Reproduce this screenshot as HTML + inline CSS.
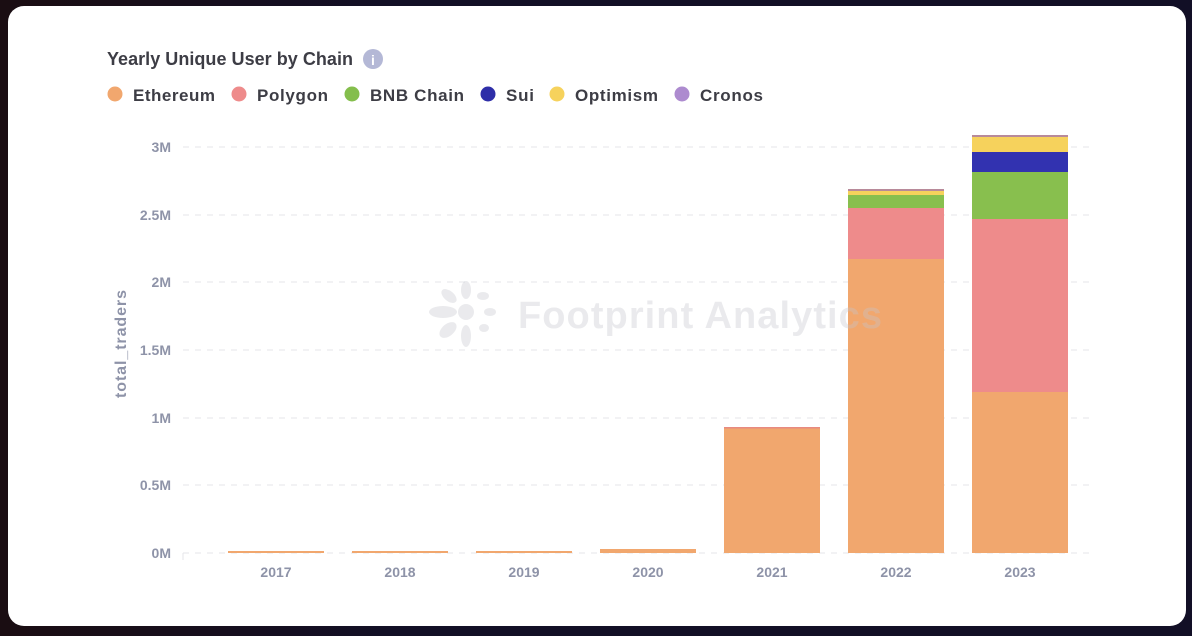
<!DOCTYPE html>
<html><head><meta charset="utf-8"><style>
body{margin:0;width:1192px;height:636px;background:#120f26;overflow:hidden;font-family:"Liberation Sans",sans-serif}
.card{position:absolute;left:8px;top:6px;width:1178px;height:620px;background:#fff;border-radius:16px}
</style></head><body>
<div style="position:absolute;left:0;top:0;width:400px;height:636px;background:linear-gradient(90deg,#1a0d12,#120f26)"></div>
<div class="card"></div>
<svg width="1192" height="636" style="position:absolute;left:0;top:0" font-family="Liberation Sans, sans-serif">
<text x="107" y="65" font-size="18" font-weight="bold" fill="#3d3d45" textLength="246">Yearly Unique User by Chain</text>
<circle cx="373" cy="59" r="10" fill="#b4b8d6"/><text x="373" y="65" font-size="14" font-weight="bold" fill="#fff" text-anchor="middle">i</text>
<g font-size="17" font-weight="bold" fill="#3d3d45">
<circle cx="115" cy="94" r="7.5" fill="#f1a76e"/><text x="133" y="101" textLength="82">Ethereum</text>
<circle cx="239" cy="94" r="7.5" fill="#ee8b8b"/><text x="257" y="101" textLength="71">Polygon</text>
<circle cx="352" cy="94" r="7.5" fill="#84be4c"/><text x="370" y="101" textLength="94">BNB Chain</text>
<circle cx="488" cy="94" r="7.5" fill="#2e2ea8"/><text x="506" y="101" textLength="28">Sui</text>
<circle cx="557" cy="94" r="7.5" fill="#f6d25c"/><text x="575" y="101" textLength="83">Optimism</text>
<circle cx="682" cy="94" r="7.5" fill="#ad8bcf"/><text x="700" y="101" textLength="63">Cronos</text>
</g>
<g stroke="#e4e5ea" stroke-dasharray="6,6" stroke-width="1">
<line x1="183" x2="1090" y1="147" y2="147"/><line x1="183" x2="1090" y1="215" y2="215"/>
<line x1="183" x2="1090" y1="282" y2="282"/><line x1="183" x2="1090" y1="350" y2="350"/>
<line x1="183" x2="1090" y1="418" y2="418"/><line x1="183" x2="1090" y1="485" y2="485"/>
<line x1="183" x2="1090" y1="553" y2="553"/>
</g>
<line x1="183" x2="183" y1="553" y2="560" stroke="#e4e5ea"/>
<g font-size="14" font-weight="bold" fill="#8e93a8" text-anchor="end">
<text x="171" y="152">3M</text><text x="171" y="220">2.5M</text><text x="171" y="287">2M</text>
<text x="171" y="355">1.5M</text><text x="171" y="423">1M</text><text x="171" y="490">0.5M</text><text x="171" y="558">0M</text>
</g>
<text transform="translate(126,344) rotate(-90)" font-size="16" font-weight="bold" fill="#8e93a8" text-anchor="middle" textLength="108">total_traders</text>
<g>
<rect x="228" y="551" width="96" height="2" fill="#f1a76e"/>
<rect x="352" y="551" width="96" height="2" fill="#f1a76e"/>
<rect x="476" y="551" width="96" height="2" fill="#f1a76e"/>
<rect x="600" y="549" width="96" height="4" fill="#f1a76e"/>
<rect x="724" y="428" width="96" height="125" fill="#f1a76e"/>
<rect x="724" y="427" width="96" height="1.5" fill="#e88a80"/>
<rect x="848" y="259" width="96" height="294" fill="#f1a76e"/>
<rect x="848" y="208" width="96" height="51" fill="#ee8b8b"/>
<rect x="848" y="195" width="96" height="13" fill="#88bf4e"/>
<rect x="848" y="191" width="96" height="4" fill="#f6d25c"/>
<rect x="848" y="189" width="96" height="2" fill="#b88a9a"/>
<rect x="972" y="392" width="96" height="161" fill="#f1a76e"/>
<rect x="972" y="219" width="96" height="173" fill="#ee8b8b"/>
<rect x="972" y="172" width="96" height="47" fill="#88bf4e"/>
<rect x="972" y="152" width="96" height="20" fill="#3232b0"/>
<rect x="972" y="137" width="96" height="15" fill="#f6d25c"/>
<rect x="972" y="135" width="96" height="2" fill="#b88a9a"/>
</g>
<g opacity="0.35" fill="#c4c6cc">
<circle cx="466" cy="312" r="8"/>
<ellipse cx="443" cy="312" rx="14" ry="6"/><ellipse cx="466" cy="290" rx="5" ry="9"/><ellipse cx="466" cy="336" rx="5" ry="11"/>
<ellipse cx="449" cy="296" rx="9" ry="5" transform="rotate(40 449 296)"/><ellipse cx="483" cy="296" rx="6" ry="4"/>
<ellipse cx="448" cy="330" rx="10" ry="6" transform="rotate(-40 448 330)"/><ellipse cx="484" cy="328" rx="5" ry="4"/><ellipse cx="490" cy="312" rx="6" ry="4"/>
<text x="518" y="328" font-size="38" font-weight="bold" textLength="364">Footprint Analytics</text>
</g>
<g font-size="14" font-weight="bold" fill="#8e93a8" text-anchor="middle">
<text x="276" y="577">2017</text><text x="400" y="577">2018</text><text x="524" y="577">2019</text>
<text x="648" y="577">2020</text><text x="772" y="577">2021</text><text x="896" y="577">2022</text><text x="1020" y="577">2023</text>
</g>
</svg>
</body></html>
